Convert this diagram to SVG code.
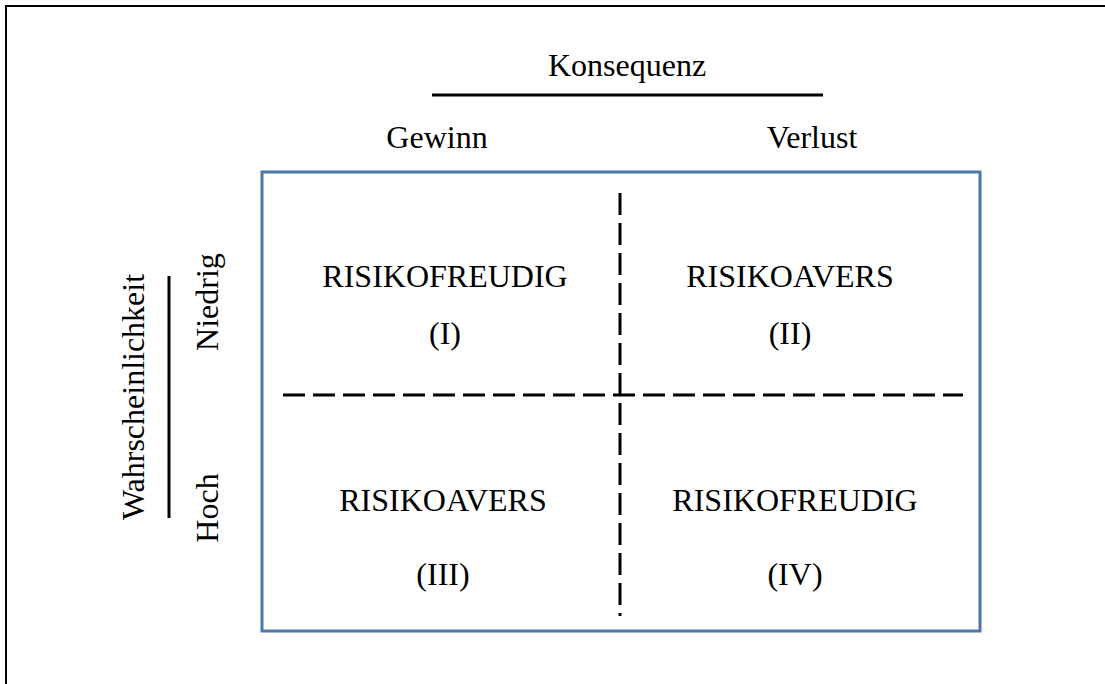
<svg xmlns="http://www.w3.org/2000/svg" width="1105" height="684" viewBox="0 0 1105 684">
<style>
text{font-family:"Liberation Serif","Times New Roman",serif;font-size:32px;fill:#000;text-anchor:middle}
.axis{stroke:#000;stroke-width:3;fill:none}
.dash{stroke:#000;stroke-width:3;stroke-dasharray:22 8;fill:none}
</style>
<rect x="0" y="0" width="1105" height="684" fill="#fff"/>
<g id="frame"><path d="M6,684 V6 H1105" stroke="#000" stroke-width="2" fill="none"/></g>
<g id="header">
<text x="627" y="76">Konsequenz</text>
<line class="axis" x1="432" y1="95" x2="823" y2="95"/>
<text x="437" y="148">Gewinn</text>
<text x="812" y="148">Verlust</text>
</g>
<g id="side">
<text transform="translate(144,397) rotate(-90)">Wahrscheinlichkeit</text>
<line class="axis" x1="169" y1="276" x2="169" y2="518"/>
<text transform="translate(218,302) rotate(-90)">Niedrig</text>
<text transform="translate(218,508) rotate(-90)">Hoch</text>
</g>
<g id="matrix"><rect x="262" y="172" width="718" height="459" fill="none" stroke="#4a76a8" stroke-width="3"/></g>
<g id="connectors">
<line class="dash" x1="620" y1="193" x2="620" y2="616"/>
<line class="dash" x1="283" y1="395" x2="963" y2="395"/>
</g>
<g id="q1"><text x="445" y="287">RISIKOFREUDIG</text><text x="445" y="344">(I)</text></g>
<g id="q2"><text x="790" y="287">RISIKOAVERS</text><text x="790" y="344">(II)</text></g>
<g id="q3"><text x="443" y="511">RISIKOAVERS</text><text x="443" y="585">(III)</text></g>
<g id="q4"><text x="795" y="511">RISIKOFREUDIG</text><text x="795" y="585">(IV)</text></g>
</svg>
